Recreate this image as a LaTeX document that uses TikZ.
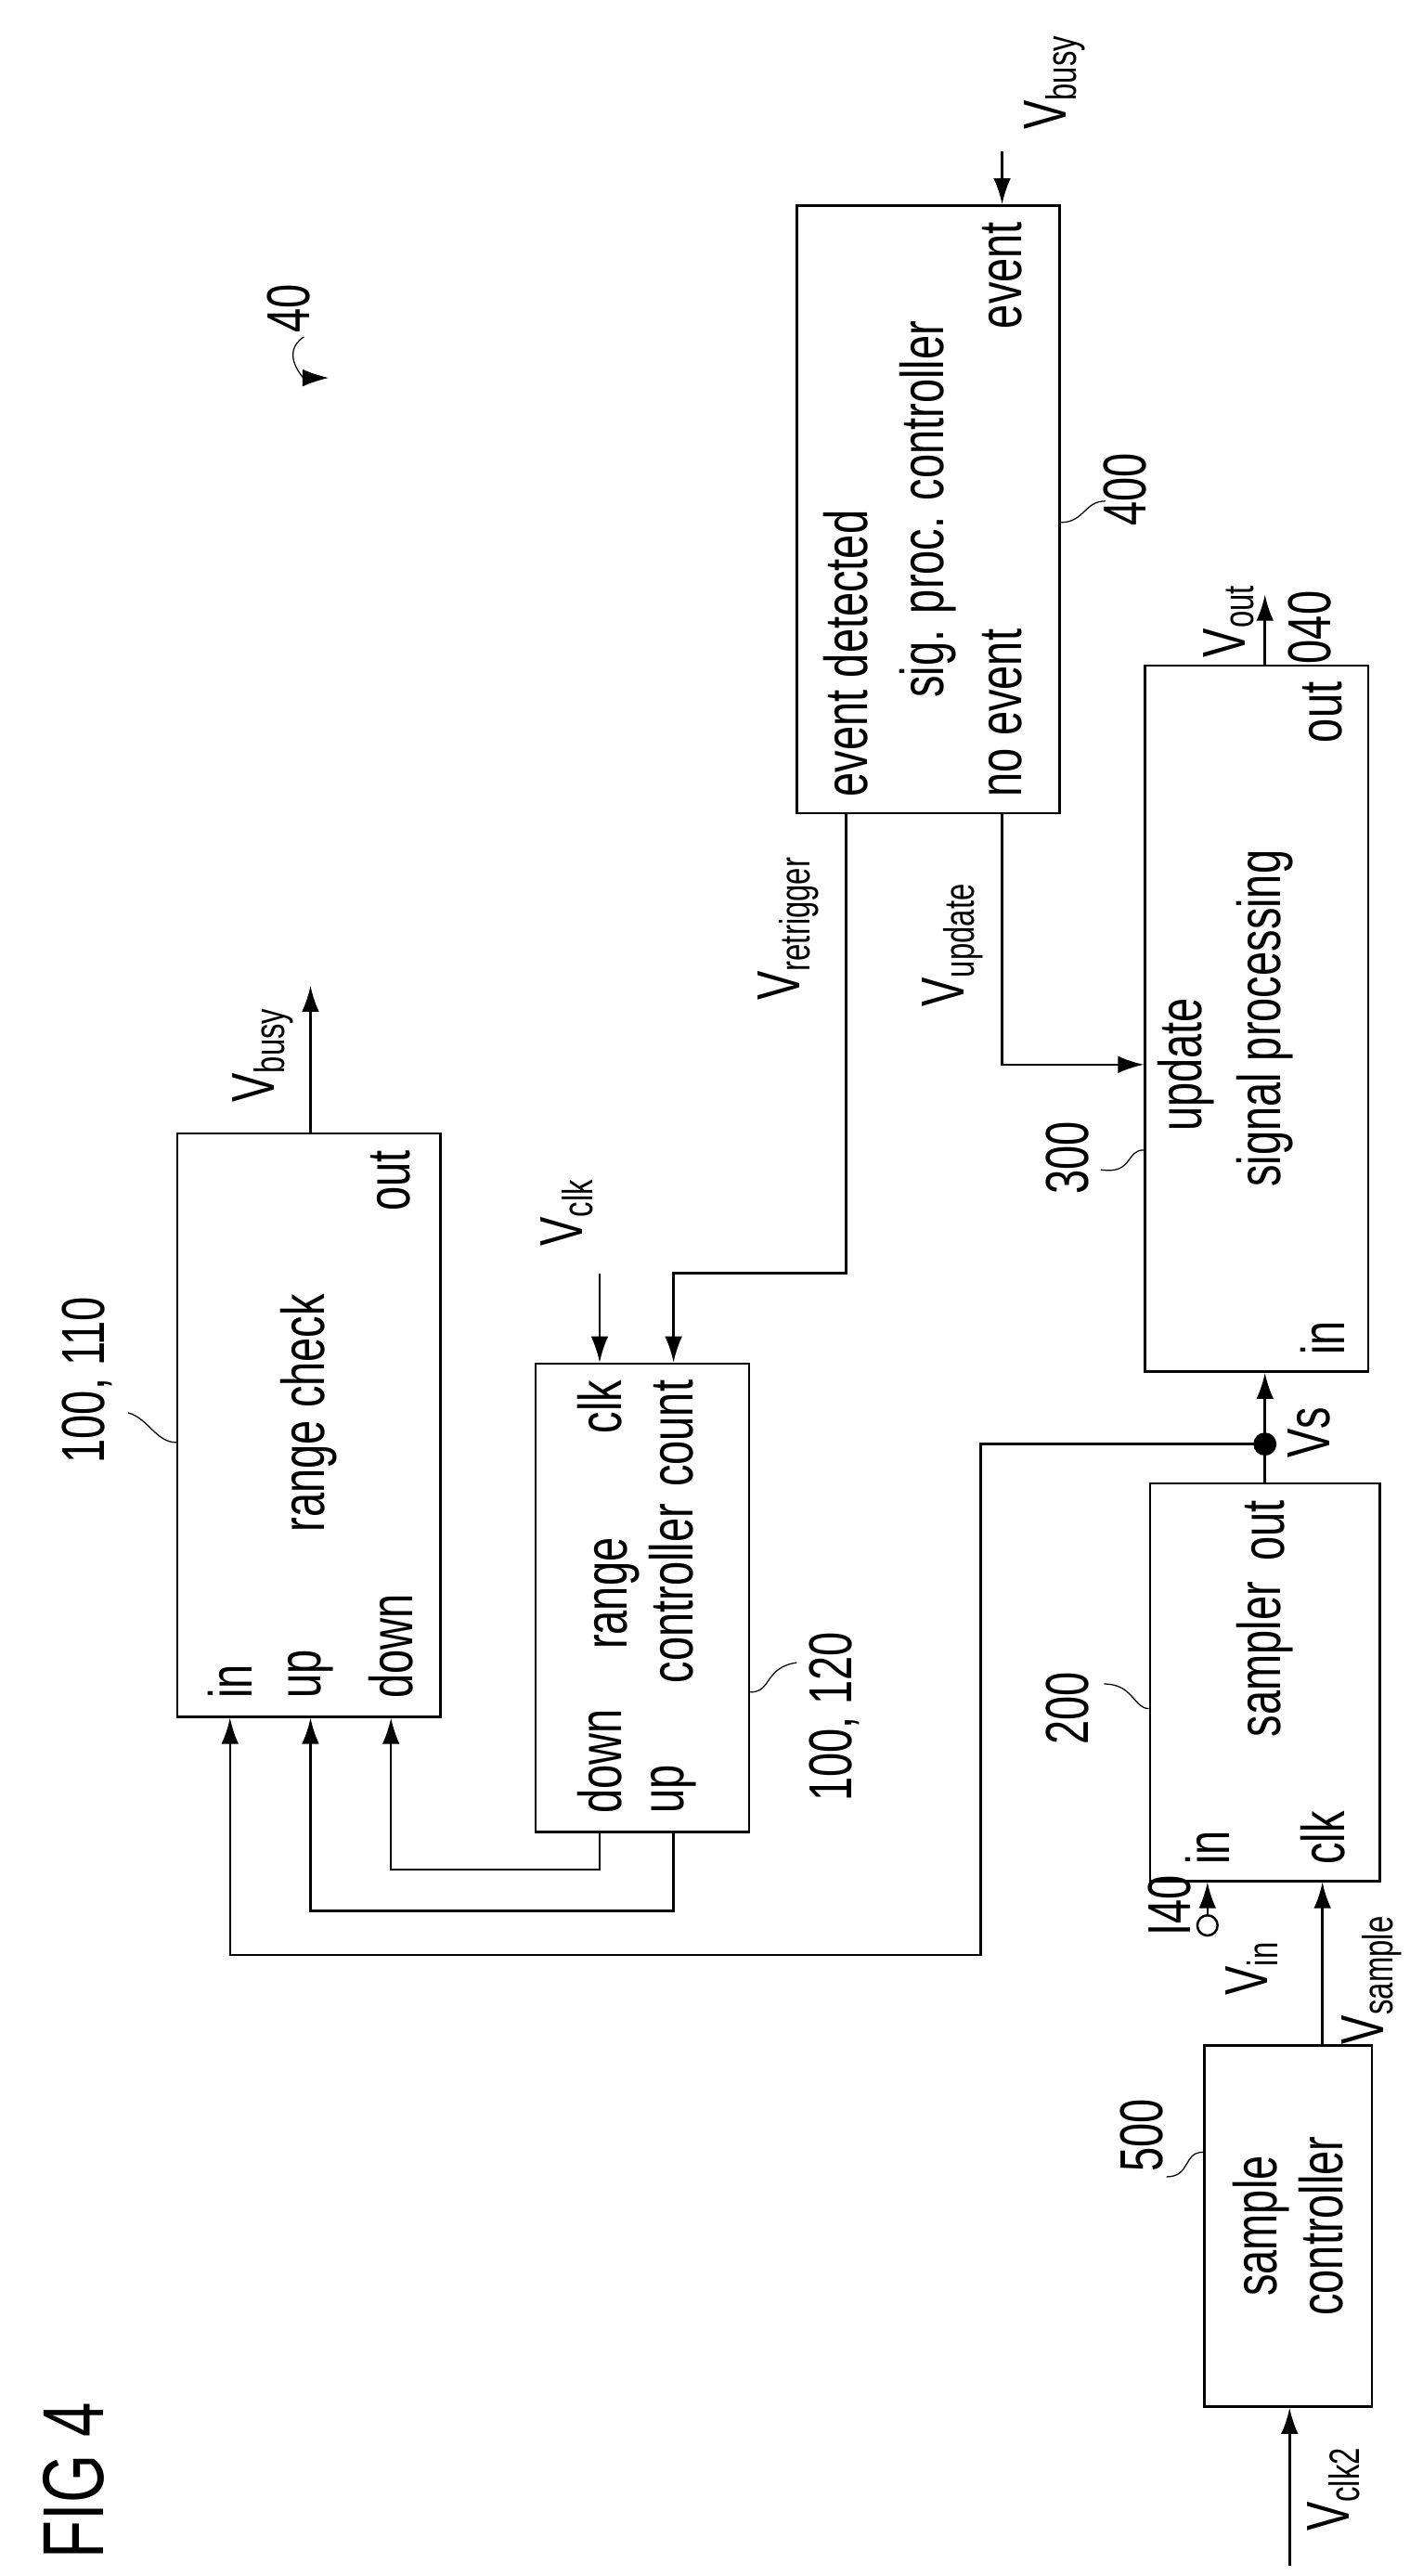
\documentclass[tikz,border=0pt]{standalone}
\usepackage{fontspec}
\setmainfont{Liberation Sans}[FakeStretch=0.72]
\usetikzlibrary{arrows.meta}
\tikzset{
  blk/.style={draw, thick, inner sep=0pt},
  txt/.style={rotate=90, inner sep=1pt, font=\fontsize{21}{23}\selectfont},
  sig/.style={thick, -{Latex[length=9pt,width=6pt]}},
  wire/.style={thick},
  lead/.style={thin}
}
\begin{document}
\begin{tikzpicture}[x=0.02cm, y=-0.02cm]
        \useasboundingbox (0,0) rectangle (866,1568);
        % blocks
        \node[blk, minimum width=3.2cm, minimum height=7.1cm] (rc) at (188,867.5) {};
        \node[blk, minimum width=2.6cm, minimum height=5.7cm] (ctl) at (391,972.5) {};
        \node[blk, minimum width=2.8cm, minimum height=4.84cm] (smp) at (770,1024) {};
        \node[blk, minimum width=2.72cm, minimum height=8.6cm] (spr) at (765,620) {};
        \node[blk, minimum width=3.2cm, minimum height=7.4cm] (spc) at (565,310) {};
        \node[blk, minimum width=2.04cm, minimum height=4.4cm] (sctl) at (784,1355) {};
        % block texts
        \node[txt] (rcT) at (188,860) {range check};
        \node[txt, align=center] (ctlT) at (392,970) {range\\controller};
        \node[txt] (smpT) at (770,1010) {sampler};
        \node[txt] (sprT) at (770,620) {signal processing};
        \node[txt] (spcT) at (565,310) {sig. proc. controller};
        \node[txt, align=center] (sctlT) at (784,1355) {sample\\controller};
        % ports
        \node[txt, anchor=west] (rcIn) at (140,1036) {in};
        \node[txt, anchor=west] (rcUp) at (189,1036) {up};
        \node[txt, anchor=west] (rcDn) at (238,1036) {down};
        \node[txt, anchor=east] (rcOut) at (238,698) {out};
        \node[txt, anchor=west] (ctlDn) at (365,1106) {down};
        \node[txt, anchor=west] (ctlUp) at (410,1106) {up};
        \node[txt, anchor=east] (ctlClk) at (365,838) {clk};
        \node[txt, anchor=east] (ctlCnt) at (410,838) {count};
        \node[txt, anchor=west] (smpIn) at (735,1137) {in};
        \node[txt, anchor=west] (smpClk) at (805,1137) {clk};
        \node[txt, anchor=east] (smpOut) at (770,911) {out};
        \node[txt, anchor=west] (sprIn) at (805,827) {in};
        \node[txt, anchor=east] (sprOut) at (805,413) {out};
        \node[txt] (sprUpd) at (722,648) {update};
        \node[txt, anchor=west] (spcEd) at (515,487) {event detected};
        \node[txt, anchor=west] (spcNo) at (610,487) {no event};
        \node[txt, anchor=east] (spcEv) at (610,133) {event};
        % free ends
        \coordinate (busyA) at (189,600);
        \coordinate (clkA) at (365,775);
        \coordinate (busyB) at (610,92);
        \coordinate (outA) at (770,362);
        \coordinate (clk2A) at (785,1562);
        \node[circle, draw, thick, inner sep=0pt, minimum size=7pt] (vin) at (735,1172) {};
        \fill (770,879) circle (4pt) coordinate (vsDot);
        % connectors
        \draw[sig] (rc.north -| busyA) -- (busyA);
        \draw[sig] (clkA) -- (ctl.north -| clkA);
        \draw[sig] (busyB) -- (spc.north -| busyB);
        \draw[sig] (spr.north -| outA) -- (outA);
        \draw[sig] (clk2A) -- (sctl.south -| clk2A);
        \draw[sig] (vin) -- (smp.south -| vin);
        \draw[sig] (sctl.north -| smpClk) -- (smp.south -| smpClk);
        \draw[sig] (smp.north -| vsDot) -- (spr.south -| vsDot);
        \draw[sig] (spc.south -| spcEd) |- (410,775) -- (ctl.north -| ctlCnt);
        \draw[sig] (spc.south -| spcNo) |- (spr.west |- 0,648);
        \draw[sig] (ctl.south -| ctlDn) |- (238,1138) -- (rc.south -| rcDn);
        \draw[sig] (ctl.south -| ctlUp) |- (189,1163) -- (rc.south -| rcUp);
        \draw[sig] (vsDot) -| (597,1190) -| (rc.south -| rcIn);
        % signal labels
        \node[txt] (lBusyA) at (160,642) {V\textsubscript{busy}};
        \node[txt] (lClk) at (345,738) {V\textsubscript{clk}};
        \node[txt] (lRetr) at (480,565) {V\textsubscript{retrigger}};
        \node[txt] (lUpd) at (580,575) {V\textsubscript{update}};
        \node[txt] (lBusyB) at (642,50) {V\textsubscript{busy}};
        \node[txt] (lOut) at (748,378) {V\textsubscript{out}};
        \node[txt] (l040) at (797,382) {040};
        \node[txt] (lVs) at (797,872) {Vs};
        \node[txt] (lIn) at (762,1198) {V\textsubscript{in}};
        \node[txt] (l140) at (712,1160) {I40};
        \node[txt] (lSmp) at (835,1205) {V\textsubscript{sample}};
        \node[txt] (lClk2) at (812,1515) {V\textsubscript{clk2}};
        % reference numerals
        \node[txt] (n110) at (53,840) {100, 110};
        \node[txt] (n120) at (508,1045) {100, 120};
        \node[txt] (n200) at (650,1040) {200};
        \node[txt] (n300) at (650,705) {300};
        \node[txt] (n400) at (685,298) {400};
        \node[txt] (n500) at (695,1300) {500};
        \node[txt] (n40) at (176,188) {40};
        \node[txt, font=\fontsize{30}{32}\selectfont] (fig) at (45,1510) {FIG 4};
        % leaders
        \draw[lead] (rc.west |- 0,878) .. controls (95,878) and (90,863) .. (78,860);
        \draw[lead] (ctl.east |- 0,1030) .. controls (470,1030) and (465,1015) .. (485,1012);
        \draw[lead] (smp.west |- 0,1040) .. controls (690,1040) and (690,1025) .. (672,1025);
        \draw[lead] (spr.west |- 0,700) .. controls (685,700) and (690,715) .. (670,712);
        \draw[lead] (spc.east |- 0,318) .. controls (660,318) and (660,305) .. (673,305);
        \draw[lead] (sctl.west |- 0,1310) .. controls (720,1310) and (725,1325) .. (710,1325);
        \draw[lead, -{Latex[length=9pt,width=6pt]}] (185,205) .. controls (170,215) and (185,230) .. (200,230);
\end{tikzpicture}
\end{document}
